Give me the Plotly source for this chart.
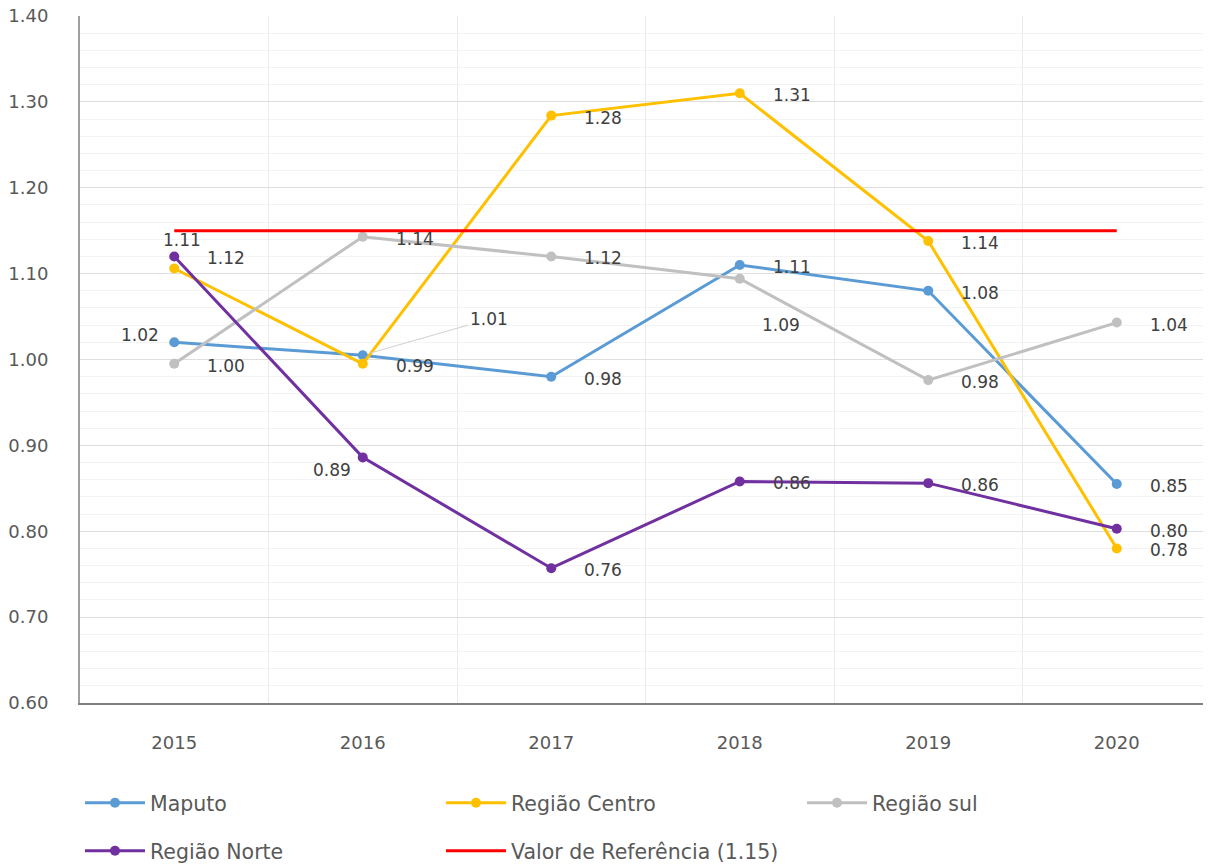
import plotly.graph_objects as go

years = ["2015", "2016", "2017", "2018", "2019", "2020"]
maputo = [1.02, 1.005, 0.98, 1.11, 1.08, 0.855]
centro = [1.106, 0.995, 1.284, 1.31, 1.138, 0.78]
sul = [0.995, 1.143, 1.12, 1.094, 0.976, 1.043]
norte = [1.12, 0.886, 0.757, 0.858, 0.856, 0.803]
referencia = [1.15] * 6

maputo_lbl = ["1.02", "1.01", "0.98", "1.11", "1.08", "0.85"]
centro_lbl = ["1.11", "0.99", "1.28", "1.31", "1.14", "0.78"]
sul_lbl = ["1.00", "1.14", "1.12", "1.09", "0.98", "1.04"]
norte_lbl = ["1.12", "0.89", "0.76", "0.86", "0.86", "0.80"]

series = [
    ("Maputo", maputo, maputo_lbl, "#5B9BD5", "legend"),
    ("Região Centro", centro, centro_lbl, "#FFC000", "legend"),
    ("Região sul", sul, sul_lbl, "#C0C0C0", "legend"),
    ("Região Norte", norte, norte_lbl, "#7030A0", "legend2"),
]

# label offsets (px) per series/point; default right of point
default_off = (52, -2)
special_off = {
    ("Região Centro", 0): (8, 28),
    ("Maputo", 0): (-34, 7),
    ("Região Norte", 1): (-31, -13),
    ("Região sul", 3): (41, -46),
}

FONT = "DejaVu Sans"
W, H = 1203, 856  # page adds an 8px body margin

fig = go.Figure()
for name, vals, lbls, color, lg in series:
    fig.add_trace(go.Scatter(
        x=years, y=vals, name=name, mode="lines+markers",
        line=dict(color=color, width=3),
        marker=dict(color=color, size=10, symbol="circle"),
        legend=lg,
    ))

fig.add_trace(go.Scatter(
    x=years, y=referencia, name="Valor de Referência (1.15)", mode="lines",
    line=dict(color="#FF0000", width=3), legend="legend2",
))

txtfont = dict(family=FONT, size=17, color="#404040")
for name, vals, lbls, color, lg in series:
    for i, (v, t) in enumerate(zip(vals, lbls)):
        if name == "Maputo" and i == 1:
            fig.add_annotation(x=i, y=v, text=t, showarrow=True, arrowhead=0,
                               arrowcolor="#D0D0D0", arrowwidth=1, ax=126, ay=-36,
                               standoff=8, font=txtfont)
            continue
        dx, dy = special_off.get((name, i), default_off)
        fig.add_annotation(x=i, y=v, text=t, showarrow=False,
                           xshift=dx, yshift=dy, font=txtfont)

legend_common = dict(orientation="h", xanchor="left", yanchor="middle",
                     xref="container", yref="container", entrywidth=286,
                     entrywidthmode="pixels", itemwidth=60,
                     font=dict(family=FONT, size=20.5, color="#595959"),
                     bgcolor="rgba(0,0,0,0)")

fig.update_layout(
    width=W, height=H,
    margin=dict(l=72, r=0, t=8, b=161),
    plot_bgcolor="white", paper_bgcolor="white",
    font=dict(family=FONT, size=18, color="#595959"),
    legend=dict(x=72 / W, y=61 / H, **legend_common),
    legend2=dict(x=72 / W, y=13 / H, **legend_common),
    xaxis=dict(type="category", range=[-0.5, 5.5], tickson="boundaries", showgrid=True,
               gridcolor="#EBEBEB", gridwidth=1, ticks="", showline=True,
               linecolor="#7F7F7F", linewidth=2, automargin=False,
               ticklabelstandoff=22, tickfont=dict(family=FONT, size=18, color="#595959")),
    yaxis=dict(range=[0.6, 1.4], dtick=0.1, tickformat=".2f", showgrid=True,
               gridcolor="#DEDEDE", gridwidth=1, ticks="", showline=True,
               linecolor="#A0A0A0", linewidth=2, zeroline=False, automargin=False,
               ticklabeloverflow="allow",
               ticklabelstandoff=26, tickfont=dict(family=FONT, size=18, color="#595959"),
               minor=dict(dtick=0.02, showgrid=True, gridcolor="#F3F3F3", gridwidth=1)),
)

fig.write_html("out.html")
